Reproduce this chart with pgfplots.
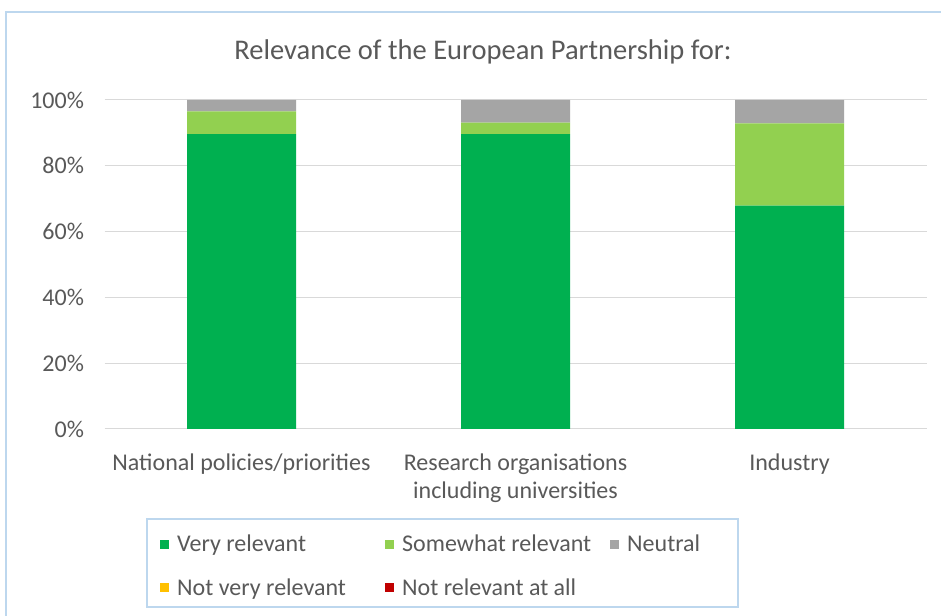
\documentclass[border=0pt]{standalone}
\usepackage{fontspec}
\setmainfont{Carlito}
\usepackage{pgfplots}
\pgfplotsset{compat=1.18}

\definecolor{veryrel}{HTML}{00B050}
\definecolor{somerel}{HTML}{92D050}
\definecolor{neutral}{HTML}{A5A5A5}
\definecolor{notvery}{HTML}{FFC000}
\definecolor{notall}{HTML}{C00000}
\definecolor{gridcol}{HTML}{D9D9D9}
\definecolor{txtcol}{HTML}{595959}
\definecolor{framecol}{HTML}{BDD7EE}

\newcommand{\lgd}[1]{\makebox[212pt][l]{\hspace*{6pt}#1}}

\begin{document}
\begin{tikzpicture}
\useasboundingbox (0pt,0pt) rectangle (941pt,615pt);
\clip (0pt,0pt) rectangle (941pt,615pt);
\fill[white] (0pt,0pt) rectangle (941pt,615pt);
\draw[framecol, line width=1.5pt] (6pt,603pt) rectangle (980pt,-30pt);
\node[text=txtcol, font=\fontsize{28.5}{33}\selectfont] at (483pt,563pt) {Relevance of the European Partnership for:};

\begin{axis}[
    at={(104.5pt,186pt)}, anchor=south west,
    scale only axis, width=822pt, height=329pt,
    ybar stacked, bar width=109pt,
    xmin=-0.5, xmax=2.5, ymin=0, ymax=100,
    xtick={0,1,2},
    xticklabels={National policies/priorities, Research organisations\\including universities, Industry},
    xticklabel style={align=center, yshift=-21pt},
    ytick={0,20,40,60,80,100},
    yticklabel={\pgfmathprintnumber{\tick}\%},
    yticklabel style={xshift=-17pt},
    tick label style={text=txtcol, font=\fontsize{24}{28}\selectfont},
    /pgf/number format/assume math mode=true,
    major tick length=0pt,
    axis line style={draw=none},
    ymajorgrids, grid style={gridcol, line width=1pt},
    legend columns=3,
    legend cell align=left,
    legend image code/.code={\fill[#1] (0pt,-4.5pt) rectangle (9pt,4.5pt);},
    legend style={draw=none, fill=none, at={(axis description cs:0.0639,-0.31)}, anchor=north west,
        font=\fontsize{24}{28}\selectfont, text=txtcol, row sep=21pt,
        cells={anchor=west}},
]
\addplot[fill=veryrel, draw=none] coordinates {(0,89.66) (1,89.66) (2,67.86)};
\addplot[fill=somerel, draw=none] coordinates {(0,6.90) (1,3.45) (2,25.00)};
\addplot[fill=neutral, draw=none] coordinates {(0,3.45) (1,6.90) (2,7.14)};
\addplot[fill=notvery, draw=none] coordinates {(0,0) (1,0) (2,0)};
\addplot[fill=notall, draw=none] coordinates {(0,0) (1,0) (2,0)};
\addlegendentry{\lgd{Very relevant}}
\addlegendentry{\lgd{Somewhat relevant}}
\addlegendentry{\hspace*{6pt}Neutral}
\addlegendentry{\lgd{Not very relevant}}
\addlegendentry{\lgd{Not relevant at all}}
\end{axis}

\draw[framecol, line width=1.5pt] (147pt,96pt) rectangle (738pt,8pt);
\end{tikzpicture}
\end{document}
